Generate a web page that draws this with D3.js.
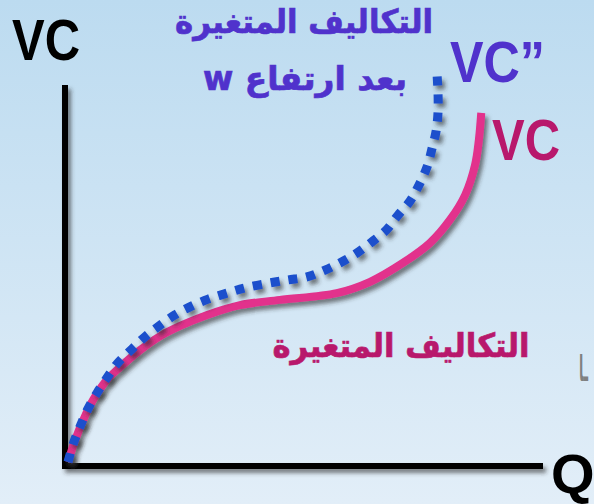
<!DOCTYPE html>
<html>
<head>
<meta charset="utf-8">
<script src="https://cdn.jsdelivr.net/npm/d3@7"></script>
<style>
  html, body { margin: 0; padding: 0; overflow: hidden; }
  body { width: 594px; height: 504px; }
</style>
</head>
<body>
<script>
// Variable cost before a wage rise (VC) and after it (VC''), against output Q
const qBefore  = [0, 0.15, 0.32, 0.53, 0.82, 1.1, 1.52, 1.94, 2.36, 2.93, 3.62, 4.46,
                  5.66, 6.36, 7.05, 7.62, 8.04, 8.36, 8.57, 8.65, 8.7];
const vcBefore = [0, 0.58, 1.11, 1.65, 2.18, 2.52, 2.97, 3.34, 3.61, 3.9, 4.16, 4.3,
                  4.48, 4.78, 5.28, 5.81, 6.42, 7.08, 7.88, 8.54, 9.26];

const qAfter  = [0, 0.11, 0.25, 0.42, 0.61, 0.82, 1.05, 1.35, 1.62, 1.94, 2.25, 2.61,
                 2.95, 3.35, 3.73, 4.25, 4.63, 5.03, 5.41, 5.77, 6.08, 6.4, 6.7, 6.95,
                 7.2, 7.39, 7.56, 7.66, 7.75, 7.79, 7.79, 7.77];
const vcAfter = [0, 0.48, 0.93, 1.41, 1.83, 2.23, 2.63, 3.0, 3.32, 3.63, 3.9, 4.14,
                 4.32, 4.48, 4.62, 4.75, 4.83, 4.91, 5.09, 5.31, 5.54, 5.84, 6.15, 6.55,
                 6.92, 7.35, 7.83, 8.3, 8.78, 9.28, 9.79, 10.27];

const axisLabels = { y: "VC", x: "Q" };
const seriesLabels = { before: "VC", after: "VC\u201D" };
const arabicBefore = "التكاليف المتغيرة";
const arabicAfter = ["التكاليف المتغيرة", "بعد ارتفاع w"];
const edgeFragment = "ـا";

const W = 594, H = 504;
const svg = d3.select("body").append("svg")
  .attr("width", W).attr("height", H);

const defs = svg.append("defs");
const grad = defs.append("linearGradient")
  .attr("id", "bg").attr("x1", 0).attr("y1", 0).attr("x2", 0).attr("y2", 1);
grad.append("stop").attr("offset", "0%").attr("stop-color", "#bcdbf0");
grad.append("stop").attr("offset", "100%").attr("stop-color", "#e2eef8");

const shadow = defs.append("filter").attr("id", "shadow")
  .attr("x", "-20%").attr("y", "-20%").attr("width", "140%").attr("height", "140%");
shadow.append("feDropShadow")
  .attr("dx", 3).attr("dy", 4).attr("stdDeviation", 2)
  .attr("flood-color", "#2a2a2a").attr("flood-opacity", 0.6);

svg.append("rect").attr("width", W).attr("height", H).attr("fill", "url(#bg)");

const x = d3.scaleLinear().domain([0, 10]).range([68, 543]);
const y = d3.scaleLinear().domain([0, 10]).range([462, 85]);

// axes
const axes = svg.append("g").attr("filter", "url(#shadow)");
axes.append("line")
  .attr("x1", x(0) - 3).attr("x2", x(0) - 3)
  .attr("y1", y(10)).attr("y2", y(0) + 7)
  .attr("stroke", "#000").attr("stroke-width", 6);
axes.append("line")
  .attr("x1", x(0) - 6).attr("x2", x(10))
  .attr("y1", y(0) + 4).attr("y2", y(0) + 4)
  .attr("stroke", "#000").attr("stroke-width", 6);

const line = d3.line()
  .x(d => x(d[0])).y(d => y(d[1]))
  .curve(d3.curveCatmullRom.alpha(0.5));

// VC curve (solid pink)
svg.append("path")
  .datum(d3.zip(qBefore, vcBefore))
  .attr("d", line)
  .attr("fill", "none")
  .attr("stroke", "#e2308c")
  .attr("stroke-width", 8)
  .attr("filter", "url(#shadow)");

// VC'' curve (dotted blue)
svg.append("path")
  .datum(d3.zip(qAfter, vcAfter))
  .attr("d", line)
  .attr("fill", "none")
  .attr("stroke", "#1a4fcc")
  .attr("stroke-width", 9)
  .attr("stroke-dasharray", "9 9")
  .attr("filter", "url(#shadow)");

const latin = "'Liberation Sans', Arial, sans-serif";
const arab = "'DejaVu Sans', sans-serif";

// axis titles
svg.append("text").text(axisLabels.y)
  .attr("x", 12).attr("y", 60)
  .attr("font-family", latin).attr("font-weight", "bold")
  .attr("font-size", 58).attr("fill", "#000")
  .attr("textLength", 68).attr("lengthAdjust", "spacingAndGlyphs");
svg.append("text").text(axisLabels.x)
  .attr("x", 551).attr("y", 493)
  .attr("font-family", latin).attr("font-weight", "bold")
  .attr("font-size", 56).attr("fill", "#000");

// curve labels
svg.append("text").text(seriesLabels.before)
  .attr("x", 492).attr("y", 160)
  .attr("font-family", latin).attr("font-weight", "bold")
  .attr("font-size", 58).attr("fill", "#b8186c")
  .attr("textLength", 68).attr("lengthAdjust", "spacingAndGlyphs");
svg.append("text").text(seriesLabels.after)
  .attr("x", 450).attr("y", 82)
  .attr("font-family", latin).attr("font-weight", "bold")
  .attr("font-size", 58).attr("fill", "#5032cc")
  .attr("textLength", 95).attr("lengthAdjust", "spacingAndGlyphs");

// Arabic captions
function arabic(txt, xc, yb, width, size, color) {
  svg.append("text").text(txt)
    .attr("x", xc).attr("y", yb)
    .attr("direction", "rtl")
    .attr("text-anchor", "middle")
    .attr("font-family", arab).attr("font-weight", "bold")
    .attr("font-size", size).attr("fill", color)
    .attr("stroke", color).attr("stroke-width", 0.7)
    .attr("textLength", width).attr("lengthAdjust", "spacingAndGlyphs");
}
arabic(arabicAfter[0], 304, 33, 258, 33, "#5032cc");
arabic(arabicAfter[1], 305, 90, 204, 33, "#5032cc");
arabic(arabicBefore, 401, 357, 257, 33, "#b8186c");

// small grey fragment near the right edge
svg.append("text").text(edgeFragment)
  .attr("x", 579).attr("y", 381)
  .attr("direction", "rtl").attr("text-anchor", "end")
  .attr("font-family", arab).attr("font-weight", "bold")
  .attr("font-size", 36).attr("fill", "#808080")
  .attr("textLength", 9).attr("lengthAdjust", "spacingAndGlyphs");
</script>
</body>
</html>
